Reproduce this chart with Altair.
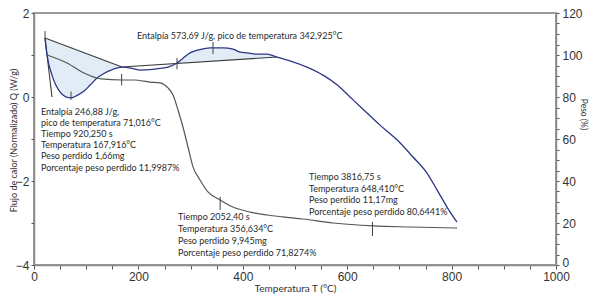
import altair as alt
import pandas as pd
import numpy as np

# ---- DSC heat flow (W/g) ----
dsc_temp = [21.1, 25.0, 34.5, 49.8, 60.0, 70.9, 83.0, 95.8, 108.0, 120.7, 134.0, 147.5, 168.6,
            191.6, 203.1, 222.0, 241.4, 258.0, 274.0, 286.0, 298.9, 318.0, 337.2, 362.1, 381.2,
            394.6, 408.0, 427.2, 446.4, 465.5, 490.4, 523.0, 553.6, 580.5, 605.4, 630.3, 662.8,
            695.4, 726.1, 752.9, 772.0, 791.2, 810.3]
dsc_flow = [1.40, 1.00, 0.52, 0.12, 0.01, -0.02, 0.04, 0.14, 0.29, 0.45, 0.56, 0.64, 0.71,
            0.67, 0.64, 0.65, 0.68, 0.72, 0.81, 0.93, 1.05, 1.13, 1.17, 1.17, 1.14,
            1.07, 1.05, 1.02, 1.02, 0.95, 0.86, 0.71, 0.52, 0.29, 0.00, -0.29, -0.67,
            -1.02, -1.43, -1.81, -2.21, -2.62, -2.98]

# ---- TGA weight (%) ----
tga_temp = [24.9, 63.2, 95.8, 128.4, 168.6, 191.6, 222.2, 241.4, 256.7, 266.3, 275.9, 285.4,
            295.0, 304.6, 318.0, 333.3, 356.3, 381.2, 413.8, 446.4, 477.0, 515.3, 572.8, 649.4,
            720.3, 810.3]
tga_weight = [100.0, 96.2, 91.4, 88.6, 88.1, 88.1, 87.1, 86.7, 84.3, 81.0, 73.8, 65.7,
              56.2, 46.7, 40.5, 34.8, 31.0, 27.6, 25.2, 23.8, 22.9, 21.9, 20.0, 18.6,
              18.1, 17.6]

# ---- integration baselines / tangent (endpoints) ----
base1_temp = [21.1, 168.6]
base1_flow = [1.405, 0.714]
base2_temp = [168.6, 465.5]
base2_flow = [0.714, 0.952]
tang_temp = [21.1, 34.5]
tang_flow = [1.405, 0.0]

# ---- analysis markers ----
dsc_mark_temp = [21.1, 70.9, 274.0, 342.9]
dsc_mark_lo = [1.40, -0.07, 0.66, 1.02]
dsc_mark_hi = [1.57, 0.13, 0.93, 1.31]
tga_mark_temp = [167.9, 356.6, 648.4]
tga_mark_lo = [85.5, 26.2, 13.8]
tga_mark_hi = [91.0, 32.4, 20.5]

# ---- annotation texts ----
txt_peak2 = ["Entalpía 573,69 J/g, pico de temperatura 342,925°C"]
txt_peak1 = ["Entalpía 246,88 J/g,", "pico de temperatura 71,016°C", "Tiempo 920,250 s",
             "Temperatura 167,916°C", "Peso perdido 1,66mg", "Porcentaje peso perdido 11,9987%"]
txt_step2 = ["Tiempo 2052,40 s", "Temperatura 356,634°C", "Peso perdido 9,945mg",
             "Porcentaje peso perdido 71,8274%"]
txt_step3 = ["Tiempo 3816,75 s", "Temperatura 648,410°C", "Peso perdido 11,17mg",
             "Porcentaje peso perdido 80,6441%"]

# ---- tables ----
dsc_df = pd.DataFrame({"temp": dsc_temp, "flow": dsc_flow})
tga_df = pd.DataFrame({"temp": tga_temp, "weight": tga_weight})
lines_df = pd.DataFrame({
    "temp": base1_temp + base2_temp + tang_temp,
    "flow": base1_flow + base2_flow + tang_flow,
    "seg": ["b1", "b1", "b2", "b2", "t", "t"],
})
fills = []
t = np.array(dsc_temp); f = np.array(dsc_flow)
m1 = (t >= base1_temp[0]) & (t <= base1_temp[1])
fills.append(pd.DataFrame({"temp": t[m1], "flow": f[m1],
                           "base": np.interp(t[m1], base1_temp, base1_flow), "g": "a"}))
m2 = (t >= 274.0) & (t <= base2_temp[1])
fills.append(pd.DataFrame({"temp": t[m2], "flow": f[m2],
                           "base": np.interp(t[m2], base2_temp, base2_flow), "g": "b"}))
fill_df = pd.concat(fills, ignore_index=True)
dsc_mark_df = pd.DataFrame({"temp": dsc_mark_temp, "lo": dsc_mark_lo, "hi": dsc_mark_hi})
tga_mark_df = pd.DataFrame({"temp": tga_mark_temp, "lo": tga_mark_lo, "hi": tga_mark_hi})
one = pd.DataFrame({"a": [0]})

NARROW = "Liberation Sans Narrow, Arial Narrow, Liberation Sans"
TXT = "Lato"
INK = "#333333"

x_axis = alt.Axis(values=list(range(0, 1001, 50)), format="d",
                  labelExpr="datum.value % 200 === 0 ? datum.label : ''",
                  title="Temperatura T (°C)", grid=False,
                  tickSize=4, tickColor="#555", domainColor="#8a8a8a", domainWidth=1.5,
                  labelFont=NARROW, labelFontSize=12, labelColor=INK, labelPadding=2,
                  titleFont=TXT, titleFontSize=10, titleFontWeight="normal", titleColor=INK,
                  titlePadding=1, labelFlush=False)
X = alt.X("temp:Q", scale=alt.Scale(domain=[0, 1000], nice=False), axis=x_axis)

yl_axis = alt.Axis(values=[v / 2 for v in range(-8, 5)], format="d",
                   labelExpr="datum.value % 2 === 0 ? datum.label : ''",
                   title="Flujo de calor (Normalizado) Q (W/g)", grid=False, orient="left",
                   tickSize=3, tickColor="#555", domainColor="#8a8a8a", domainWidth=1.5,
                   labelFont=NARROW, labelFontSize=12, labelColor=INK, labelPadding=2,
                   titleFont=TXT, titleFontSize=9, titleFontWeight="normal", titleColor=INK,
                   titleX=-21, titleY=127, titleAngle=270, titleBaseline="middle",
                   titleAlign="center", labelFlush=False)
Y_dsc_scale = alt.Scale(domain=[-4, 2], nice=False, zero=False)

yr_axis = alt.Axis(values=list(range(0, 121, 5)), format="d",
                   labelExpr="datum.value % 20 === 0 ? datum.label : ''",
                   title="Peso (%)", grid=False, orient="right",
                   tickSize=3, tickColor="#555", domainColor="#8a8a8a", domainWidth=1.5,
                   labelFont=NARROW, labelFontSize=12, labelColor=INK, labelPadding=3,
                   labelOffset={"condition": {"test": "datum.value === 0", "value": -3}, "value": 0},
                   titleFont=TXT, titleFontSize=8.5, titleFontWeight="normal", titleColor=INK,
                   titleX=27, titleY=101, titleAngle=90, titleBaseline="middle",
                   titleAlign="center", labelFlush=False)
Y_tga_scale = alt.Scale(domain=[0, 120], nice=False, zero=False)

fill = alt.Chart(fill_df).mark_area(color="#e2ecf7", opacity=1).encode(
    x=X, y=alt.Y("flow:Q", scale=Y_dsc_scale, axis=yl_axis), y2="base:Q", detail="g:N")
blines = alt.Chart(lines_df).mark_line(color="#3c3c3c", strokeWidth=1.1).encode(
    x=X, y=alt.Y("flow:Q", scale=Y_dsc_scale, axis=yl_axis), detail="seg:N")
dsc_line = alt.Chart(dsc_df).mark_line(color="#2d3585", strokeWidth=1.3, interpolate="monotone").encode(
    x=X, y=alt.Y("flow:Q", scale=Y_dsc_scale, axis=yl_axis))
dsc_marks = alt.Chart(dsc_mark_df).mark_rule(color="#444", strokeWidth=1).encode(
    x=X, y=alt.Y("lo:Q", scale=Y_dsc_scale, axis=yl_axis), y2="hi:Q")


def note(lines, px, py, lh):
    return alt.Chart(one).mark_text(align="left", baseline="middle", font=TXT, fontSize=9,
                                    color="#2a2a2a", lineHeight=lh).encode(
        x=alt.value(px), y=alt.value(py), text=alt.value(lines))


notes = [note(txt_peak2, 103, 23, 11), note(txt_peak1, 7, 99, 11.1),
         note(txt_step2, 144, 204, 12), note(txt_step3, 275, 164, 11.5)]

dsc_layer = alt.layer(fill, blines, dsc_line, dsc_marks, *notes)

tga_line = alt.Chart(tga_df).mark_line(color="#505a52", strokeWidth=1.2, interpolate="monotone").encode(
    x=X, y=alt.Y("weight:Q", scale=Y_tga_scale, axis=yr_axis))
tga_marks = alt.Chart(tga_mark_df).mark_rule(color="#444", strokeWidth=1).encode(
    x=X, y=alt.Y("lo:Q", scale=Y_tga_scale, axis=yr_axis), y2="hi:Q")
tga_layer = alt.layer(tga_line, tga_marks)

chart = alt.layer(dsc_layer, tga_layer).resolve_scale(y="independent").properties(
    width=522, height=252,
    autosize=alt.AutoSizeParams(type="none"),
    padding={"left": 34, "top": 13, "right": 36, "bottom": 33},
    background="white",
).configure_view(stroke="#9a9a9a", strokeWidth=2)

chart.save("out.html", embed_options={"renderer": "svg", "actions": False})
